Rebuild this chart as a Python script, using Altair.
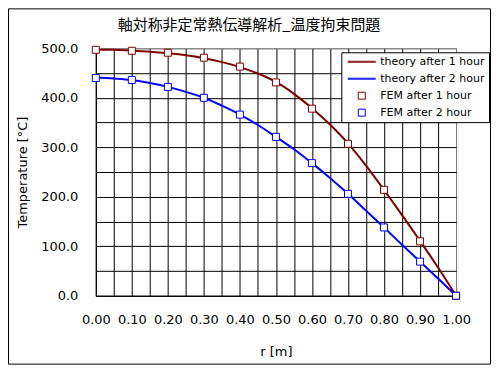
import altair as alt
import pandas as pd

title_text = "軸対称非定常熱伝導解析_温度拘束問題"
series_names = ["theory after 1 hour", "theory after 2 hour", "FEM after 1 hour", "FEM after 2 hour"]
series_colors = ["#800000", "#0000FF", "#800000", "#0000FF"]

r_theory = [0.00, 0.05, 0.10, 0.15, 0.20, 0.25, 0.30, 0.35, 0.40, 0.45, 0.50,
            0.55, 0.60, 0.65, 0.70, 0.75, 0.80, 0.85, 0.90, 0.95, 1.00]
theory_1h = [497, 497, 495, 493, 490, 486, 480, 472, 462, 449, 432,
             408, 379, 346, 308, 263, 214, 163, 111, 57, 0]
theory_2h = [441, 439, 436, 430, 422, 412, 400, 384, 366, 345, 321,
             296, 268, 238, 206, 172, 138, 103, 69, 35, 0]

r_fem = [0.0, 0.1, 0.2, 0.3, 0.4, 0.5, 0.6, 0.7, 0.8, 0.9, 1.0]
fem_1h = [497, 495, 491, 481, 463, 431, 378, 307, 214, 110, 0]
fem_2h = [440, 436, 422, 400, 366, 321, 268, 206, 138, 69, 0]

theory_df = pd.DataFrame({
    "r": r_theory * 2,
    "T": theory_1h + theory_2h,
    "series": [series_names[0]] * len(r_theory) + [series_names[1]] * len(r_theory),
})
fem_df = pd.DataFrame({
    "r": r_fem * 2,
    "T": fem_1h + fem_2h,
    "series": [series_names[2]] * len(r_fem) + [series_names[3]] * len(r_fem),
})

W, H = 361, 248
line_sym = "M-4,-0.14H4M-4,0.14H4"

stroke_scale = alt.Scale(domain=series_names, range=series_colors)
shape_scale = alt.Scale(domain=series_names, range=[line_sym, line_sym, "square", "square"])

x_vals = [round(i * 0.05, 2) for i in range(21)]
y_vals = [i * 50 for i in range(11)]

x_axis = alt.Axis(values=x_vals, title="r [m]",
                  labelExpr="round(datum.value*100) % 10 == 0 ? format(datum.value, '.2f') : ''",
                  labelOverlap=False, labelFlush=False, ticks=False,
                  labelPadding=18, titlePadding=19,
                  gridColor={"condition": {"test": "datum.value >= 1", "value": "#808080"}, "value": "#000000"})
y_axis = alt.Axis(values=y_vals, title="Temperature [°C]",
                  labelExpr="datum.value % 100 == 0 ? format(datum.value, '.1f') : ''",
                  labelOverlap=False, labelFlush=False, ticks=False,
                  labelPadding=18, titlePadding=11,
                  gridColor={"condition": {"test": "datum.value >= 500", "value": "#808080"}, "value": "#000000"})

x_enc = alt.X("r:Q", scale=alt.Scale(domain=[0, 1], nice=False), axis=x_axis)
y_enc = alt.Y("T:Q", scale=alt.Scale(domain=[0, 500], nice=False), axis=y_axis)

legend = alt.Legend(title=None, orient="none", legendX=246, legendY=4,
                    fillColor="white", strokeColor="black", padding=4,
                    symbolOffset=11, labelOffset=13, rowPadding=5,
                    symbolSize=49, symbolStrokeWidth=1,
                    symbolFillColor="white",
                    labelFont="DejaVu Sans", labelFontSize=11,
                    labelColor="black", cornerRadius=0)

lines = alt.Chart(theory_df).mark_line(strokeWidth=2, interpolate="monotone").encode(
    x=x_enc, y=y_enc,
    stroke=alt.Stroke("series:N", scale=stroke_scale, legend=legend),
    detail="series:N",
)

points = alt.Chart(fem_df).mark_point(shape="square", fill="white", filled=False, opacity=1,
                                      size=49, strokeWidth=1).encode(
    x=x_enc, y=y_enc,
    stroke=alt.Stroke("series:N", scale=stroke_scale, legend=legend),
    shape=alt.Shape("series:N", scale=shape_scale, legend=legend),
)

border_df = pd.DataFrame({"a": [0]})
border = alt.Chart(border_df).mark_rect(fill=None, stroke="black", strokeWidth=1).encode(
    x=alt.value(-87.5), x2=alt.value(395.5), y=alt.value(-39.5), y2=alt.value(316.5))

title_df = pd.DataFrame({"t": [title_text]})
title = alt.Chart(title_df).mark_text(font="Noto Sans CJK JP", fontSize=15, color="black",
                                      baseline="middle", align="center").encode(
    text="t:N", x=alt.value(153.5), y=alt.value(-23))

chart = alt.layer(lines, points, border, title).resolve_scale(stroke="shared", shape="shared").properties(
    width=W, height=H, padding=0, background="white"
).configure_view(stroke="#808080", strokeWidth=1).configure_axis(
    labelFont="DejaVu Sans", labelFontSize=13, labelColor="black",
    titleFont="DejaVu Sans", titleFontSize=13, titleFontWeight="normal", titleColor="black",
    domainColor="black", domainWidth=1, gridWidth=1, gridOpacity=1,
)

chart.save("out.html", embed_options={"renderer": "svg", "actions": False})
